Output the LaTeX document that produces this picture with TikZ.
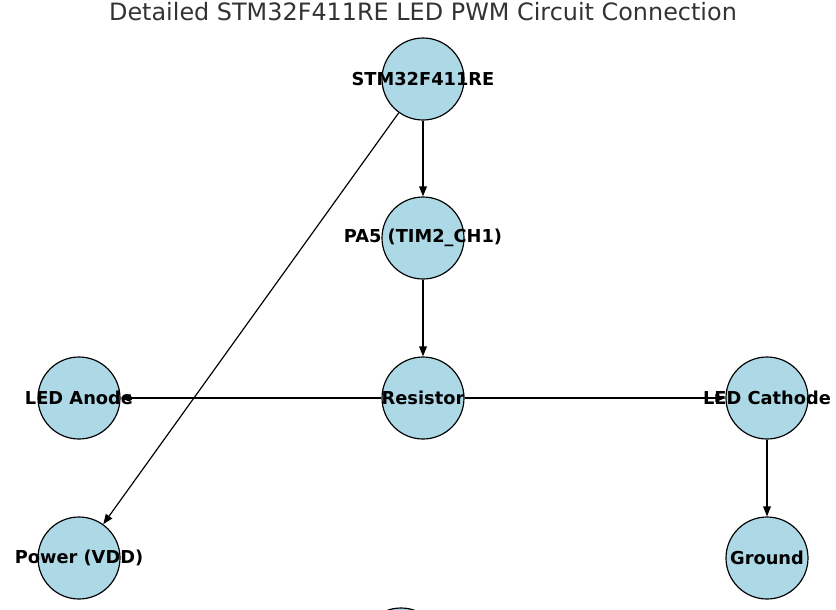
\documentclass[tikz,border=0pt]{standalone}
\usepackage{fontspec}
\setmainfont{DejaVu Sans}
\usetikzlibrary{arrows.meta, backgrounds}

\definecolor{nodeblue}{RGB}{173,216,230}
\definecolor{titlegray}{RGB}{51,51,51}

\begin{document}
\begin{tikzpicture}[x=0.03cm, y=-0.03cm,
    part/.style={circle, draw=black, line width=1pt, fill=nodeblue, minimum size=2.46cm, inner sep=0pt},
    partname/.style={font=\fontsize{15.2}{18}\selectfont\bfseries, text=black},
    wire/.style={line width=1pt, -{Triangle[length=8.5pt, width=6.5pt]}}]

        % page size and cut-off at the lower edge
        \useasboundingbox (0,0) rectangle (836,609);
        \clip (0,0) rectangle (836,609);

        % title
        \node[text=titlegray, font=\fontsize{20.4}{24}\selectfont] (title) at (423,12) {Detailed STM32F411RE LED PWM Circuit Connection};

        % the parts
        \node[part, label={[partname]center:STM32F411RE}] (mcu) at (423,79) {};
        \node[part, label={[partname]center:PA5 (TIM2\_CH1)}] (pa5) at (423,238) {};
        \node[part, label={[partname]center:Resistor}] (resistor) at (423,398) {};
        \node[part, label={[partname]center:LED Anode}] (anode) at (79,398) {};
        \node[part, label={[partname]center:LED Cathode}] (cathode) at (767,398) {};
        \node[part, label={[partname]center:Power (VDD)}] (vdd) at (79,558) {};
        \node[part, label={[partname]center:Ground}] (gnd) at (767,558) {};
        \node[part] (hidden) at (401,649) {};

        % the wires, under the names
        \begin{scope}[on background layer]
	\draw[wire] (mcu) -- (pa5);
	\draw[wire] (pa5) -- (resistor);
	\draw[wire] (resistor) -- (anode);
	\draw[wire] (resistor) -- (cathode);
	\draw[wire] (cathode) -- (gnd);
	\draw[wire] (mcu) -- (vdd);
        \end{scope}

\end{tikzpicture}
\end{document}
